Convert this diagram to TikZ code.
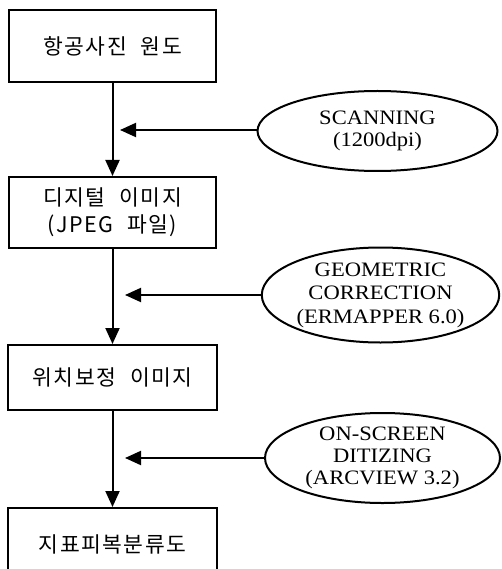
\documentclass[tikz,border=0pt]{standalone}
\usepackage{fontspec}
\usetikzlibrary{shapes.geometric,arrows.meta}
\newfontfamily\krfont[WordSpace=2.2,LetterSpace=7]{Noto Sans CJK KR}
\newfontfamily\serfont[FakeStretch=1.1]{Liberation Serif}
\begin{document}
\begin{tikzpicture}[x=1pt,y=-1pt,
  procbox/.style={draw,line width=2pt,rectangle,minimum width=207pt,inner sep=0pt,
    font=\krfont\fontsize{21.5}{27}\selectfont,align=center},
  toolell/.style={draw,line width=2pt,ellipse,inner sep=0pt,
    font=\serfont\fontsize{20.5}{21.5}\selectfont,align=center},
  flow/.style={line width=2pt,-{Triangle[length=16pt,width=14pt]}}]
\useasboundingbox (0,0) rectangle (501,569);
\node[procbox,minimum height=72pt] (b1) at (112.5,46) {항공사진 원도};
\node[procbox,minimum height=71pt] (b2) at (112.5,212.5) {디지털 이미지\\(JPEG 파일)};
\node[procbox,minimum height=65pt,minimum width=209pt] (b3) at (112.5,377.5) {위치보정 이미지};
\node[procbox,minimum height=72pt,minimum width=209pt] (b4) at (112.5,544) {지표피복분류도};
\node[toolell,minimum width=240pt,minimum height=80pt] (e1) at (377.5,131) {SCANNING\\(1200dpi)};
\node[toolell,minimum width=235pt,minimum height=95pt,font=\serfont\fontsize{20.5}{23.5}\selectfont] (e2) at (380.5,295) {GEOMETRIC\\CORRECTION\\(ERMAPPER 6.0)};
\node[toolell,minimum width=235pt,minimum height=90pt,font=\serfont\fontsize{20.5}{22}\selectfont] (e3) at (382.5,458) {ON-SCREEN\\DITIZING\\(ARCVIEW 3.2)};
\coordinate (t1) at (120,130);
\coordinate (t2) at (125,295);
\coordinate (t3) at (125,458);
\draw[flow] (b1) -- (b2);
\draw[flow] (b2) -- (b3);
\draw[flow] (b3) -- (b4);
\draw[flow] (e1.west |- t1) -- (t1);
\draw[flow] (e2.west |- t2) -- (t2);
\draw[flow] (e3.west |- t3) -- (t3);
\end{tikzpicture}
\end{document}
